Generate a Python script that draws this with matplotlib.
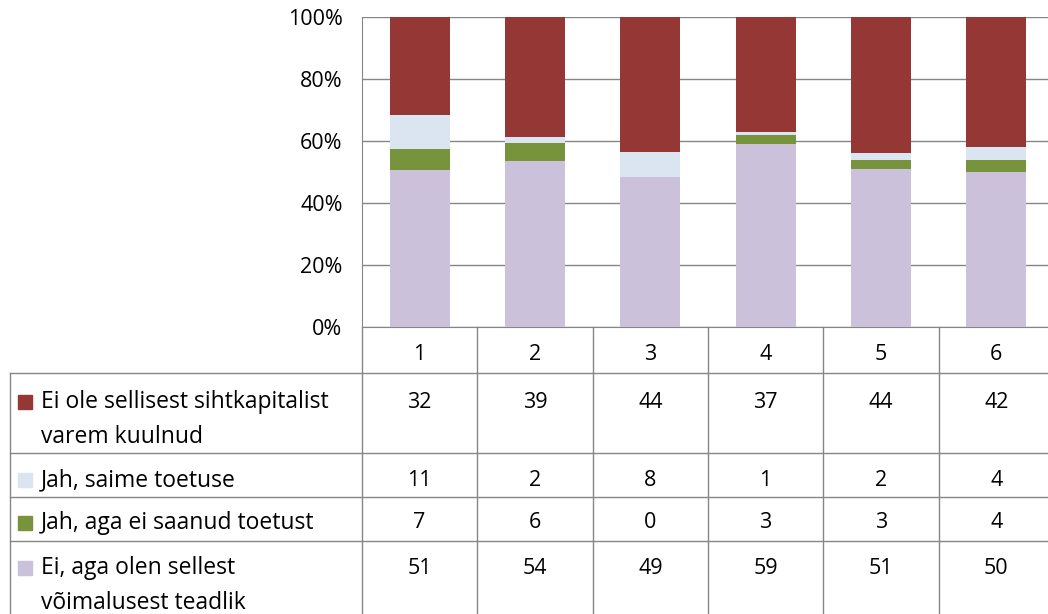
import matplotlib
matplotlib.use("Agg")
import matplotlib.pyplot as plt
import matplotlib.transforms as mtransforms
from matplotlib.lines import Line2D
from matplotlib.patches import Rectangle
import numpy as np

plt.rcParams['font.family'] = ['Open Sans', 'DejaVu Sans']

categories = ['1', '2', '3', '4', '5', '6']
series_names = ['Ei ole sellisest sihtkapitalist\nvarem kuulnud',
                'Jah, saime toetuse',
                'Jah, aga ei saanud toetust',
                'Ei, aga olen sellest\nvõimalusest teadlik']
ei_ole = [32, 39, 44, 37, 44, 42]
jah_saime = [11, 2, 8, 1, 2, 4]
jah_ei_saanud = [7, 6, 0, 3, 3, 4]
ei_teadlik = [51, 54, 49, 59, 51, 50]
colors = ['#953735', '#DBE5F1', '#77933C', '#CCC1DA']

W, H = 1048, 614
fs = 15.5
fig = plt.figure(figsize=(W / 100, H / 100), dpi=100)
ax = fig.add_axes([362 / W, 1 - 327 / H, 692 / W, 310 / H])

# stacked 100% bars, bottom series first
stack = np.array([ei_teadlik, jah_ei_saanud, jah_saime, ei_ole], dtype=float)
pct = stack / stack.sum(axis=0)
x = np.arange(len(categories))
bottom = np.zeros(len(categories))
for vals, col in zip(pct, colors[::-1]):
    ax.bar(x, vals, 0.52, bottom=bottom, color=col, zorder=3)
    bottom += vals

grid_col = '#868686'
ax.set_xlim(-0.5, len(categories) - 0.5)
ax.set_ylim(0, 1)
ax.set_yticks(np.arange(0, 1.01, 0.2))
ax.set_yticklabels(['%d%%' % v for v in range(0, 101, 20)], fontsize=15.5)
ax.yaxis.grid(True, color=grid_col, lw=1)
ax.tick_params(axis='y', length=0, pad=14)
ax.set_xticks([])
for s in ['top', 'right']:
    ax.spines[s].set_visible(False)
for s in ['left', 'bottom']:
    ax.spines[s].set_color(grid_col)

# data table below the chart
def fy(py):
    return 1 - py / H

blend = mtransforms.blended_transform_factory(ax.transData, fig.transFigure)
line_kw = dict(color=grid_col, lw=1)

for py in [373, 453, 497, 541]:
    fig.add_artist(Line2D([10 / W, 1.0], [fy(py), fy(py)], transform=fig.transFigure, **line_kw))
fig.add_artist(Line2D([10 / W, 10 / W], [fy(373), 0], transform=fig.transFigure, **line_kw))
for k in range(len(categories) + 1):
    fig.add_artist(Line2D([k - 0.5, k - 0.5], [fy(327), 0], transform=blend, **line_kw))

for i, c in enumerate(categories):
    fig.text(i, fy(355), c, transform=blend, ha='center', va='center', fontsize=fs)

rows = [ei_ole, jah_saime, jah_ei_saanud, ei_teadlik]
row_text_y = [402, 480, 523, 568]
for name, vals, col, ty in zip(series_names, rows, colors, row_text_y):
    fig.add_artist(Rectangle((18 / W, fy(ty) - 7 / H), 14 / W, 14 / H,
                             transform=fig.transFigure, color=col))
    for j, line in enumerate(name.split('\n')):
        fig.text(41 / W, fy(ty + 35 * j), line, transform=fig.transFigure,
                 ha='left', va='center', fontsize=16.5)
    for i, v in enumerate(vals):
        fig.text(i, fy(ty), str(v), transform=blend, ha='center', va='center', fontsize=fs)

fig.savefig('out.png', dpi=100)
